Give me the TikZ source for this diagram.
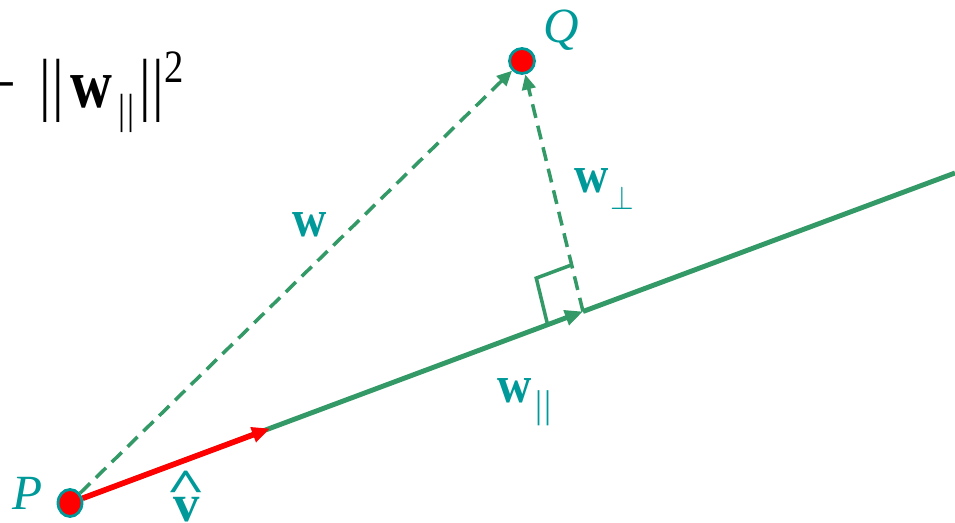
\documentclass[tikz,border=0pt]{standalone}
\usepackage{fontspec}
\setmainfont{Liberation Serif}
\usepackage{xcolor}
\usetikzlibrary{arrows.meta,shapes.geometric,calc}
\definecolor{VPTeal}{HTML}{009999}
\definecolor{VPGreen}{HTML}{339966}
\definecolor{VPRed}{HTML}{FF0000}

\begin{document}
\begin{tikzpicture}[x=1cm,y=1cm,
  dot/.style={ellipse,fill=VPRed,draw=VPTeal,line width=1.6pt,inner sep=0pt,minimum width=0.48cm,minimum height=0.54cm},
  lbl/.style={text=VPTeal,inner sep=0pt},
  axisline/.style={draw=VPGreen,line width=2.8pt},
  dashvec/.style={draw=VPGreen,line width=2pt,dash pattern=on 8pt off 4.6pt,-{Triangle[length=0.3cm,width=0.27cm]}},
  unitvec/.style={draw=VPRed,line width=3.2pt,-{Triangle[length=0.36cm,width=0.3cm]}}]
\path[use as bounding box] (0,0) rectangle (19.10,10.46);
\node[dot] (P) at (1.40,0.40) {};
\node[dot,minimum width=0.5cm,minimum height=0.5cm] (Q) at (10.44,9.24) {};
\coordinate (E) at (19.10,7.00);
\coordinate (F) at (11.66,4.23);
\coordinate (V) at (5.40,1.89);
\coordinate (SA) at ($(F)!0.069!(P)$);
\coordinate (SC) at ($(F)!0.186!(Q)$);
\draw[axisline,-{Triangle[length=0.36cm,width=0.3cm]}] (P) -- (F);
\draw[axisline] (F) -- (E);
\draw[VPGreen,line width=2pt] (SA) -- ($(SA)+(SC)-(F)$) -- (SC);
\draw[dashvec] (P) -- (Q);
\draw[dashvec] (F) -- (Q);
\draw[unitvec] (P) -- (V);
\node[lbl,anchor=base,font=\fontsize{28}{28}\selectfont\itshape] (Plbl) at (0.56,0.26) {P};
\node[lbl,anchor=base,font=\fontsize{28}{28}\selectfont\itshape] (Qlbl) at (11.23,9.60) {Q};
\node[lbl,anchor=base,yscale=1.1,font=\fontsize{27}{27}\selectfont\bfseries] (wlbl) at (6.19,5.72) {w};
\node[lbl,anchor=base west,yscale=1.1,font=\fontsize{27}{27}\selectfont] (wperp) at (11.48,6.60)
  {\textbf{w}\kern1pt\raisebox{-8.5pt}{\fontsize{19}{19}\selectfont$\perp$}};
\node[lbl,anchor=base west,yscale=1.1,font=\fontsize{27}{27}\selectfont] (wpar) at (9.94,2.40)
  {\textbf{w}\kern2pt\raisebox{-7.5pt}{\fontsize{20}{20}\selectfont|\kern1.6pt|}};
\node[lbl,anchor=base,font=\fontsize{30}{30}\selectfont\bfseries] (vhat) at (3.60,0.02)
  {v\hspace{-0.25em}\makebox[0pt]{\raisebox{11.5pt}{\fontsize{24}{24}\selectfont\scalebox{1.6}[1.1]{\textasciicircum}}}\hspace{0.25em}};
\node[anchor=base west,inner sep=0pt,yscale=1.2,font=\fontsize{33}{33}\selectfont] (norm) at (-0.34,8.30)
  {−\hspace{0.4em}|\kern1pt|\hspace{0.1em}\textbf{w}\kern3.5pt\raisebox{-7.5pt}{\fontsize{20}{20}\selectfont|\kern1.6pt|}\kern2.5pt|\kern1pt|\raisebox{12pt}{\fontsize{22}{22}\selectfont 2}};
\end{tikzpicture}
\end{document}
